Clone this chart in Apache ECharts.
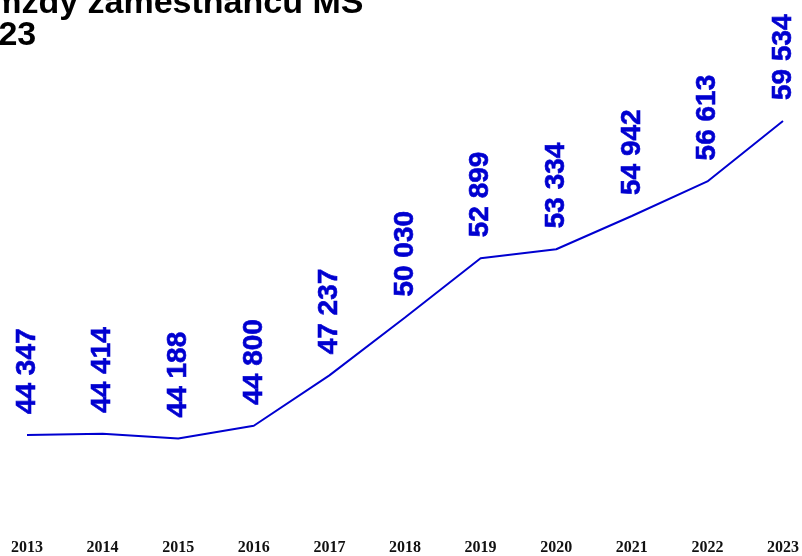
<!DOCTYPE html>
<html>
<head>
<meta charset="utf-8">
<script src="https://cdn.jsdelivr.net/npm/echarts@6/dist/echarts.min.js"></script>
<style>html,body{margin:0;padding:0;background:#fff}#c{width:802px;height:556px}</style>
</head>
<body>
<div id="c"></div>
<script>
const years = ['2013','2014','2015','2016','2017','2018','2019','2020','2021','2022','2023'];
const wages = [44347, 44414, 44188, 44800, 47237, 50030, 52899, 53334, 54942, 56613, 59534];
const titleLine1 = 'Průměrné mzdy zaměstnanců MŠ';
const titleLine2 = 'v letech 2013–2023';

const fmt = v => String(v).replace(/\B(?=(\d{3})+(?!\d))/g, ' ');
const chart = echarts.init(document.getElementById('c'));
chart.setOption({
  animation: false,
  title: [
    { text: titleLine1, left: -177, top: -13, padding: 0,
      textStyle: { fontFamily: 'Liberation Sans', fontWeight: 'bold', fontSize: 34, lineHeight: 34, color: '#000' } },
    { text: titleLine2, left: -270, top: 19, padding: 0,
      textStyle: { fontFamily: 'Liberation Sans', fontWeight: 'bold', fontSize: 34, lineHeight: 34, color: '#000' } }
  ],
  grid: { left: 27, right: 19, top: 8, bottom: 28, containLabel: false },
  xAxis: {
    type: 'category', data: years, boundaryGap: false,
    axisLine: { show: false }, axisTick: { show: false }, splitLine: { show: false },
    axisLabel: { margin: 15, interval: 0, fontFamily: 'Liberation Serif', fontWeight: 'bold', fontSize: 16, color: '#111' }
  },
  yAxis: {
    type: 'value', min: 40000, max: 65000, show: false, splitLine: { show: false }
  },
  series: [{
    type: 'line', data: wages, symbol: 'circle', symbolSize: 0, showSymbol: true,
    itemStyle: { color: '#0000d0' },
    lineStyle: { color: '#0000d0', width: 2 },
    labelLayout: { hideOverlap: false },
    label: {
      show: true, position: 'top', distance: 21, rotate: 90, align: 'left', verticalAlign: 'middle',
      formatter: p => fmt(p.value),
      fontFamily: 'Liberation Sans', fontWeight: 'bold', fontSize: 28, color: '#0000d0',
      textBorderColor: '#0000d0', textBorderWidth: 0.6
    }
  }]
});
</script>
</body>
</html>
